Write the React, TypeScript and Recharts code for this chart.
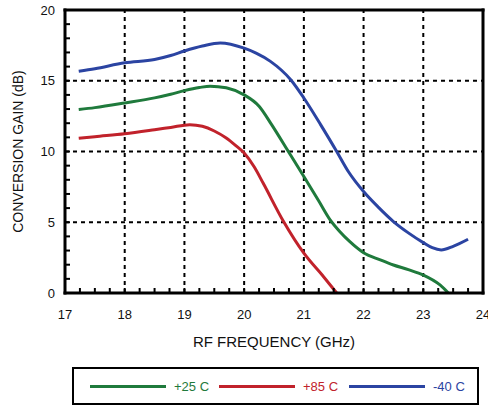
import { LineChart, Line, XAxis, YAxis, ReferenceLine } from 'recharts'

// RF frequency (GHz) / conversion gain (dB)
const FREQ_25 = [17.23, 17.5, 18, 18.5, 18.77, 19, 19.25, 19.43, 19.7, 20, 20.25, 20.46, 20.74, 21, 21.25, 21.44, 21.6, 21.77, 22, 22.28, 22.5, 22.75, 23, 23.28, 23.42]
const GAIN_25 = [12.96, 13.1, 13.43, 13.79, 14.05, 14.3, 14.52, 14.62, 14.5, 14.0, 13.2, 11.9, 10.0, 8.23, 6.5, 5.17, 4.35, 3.63, 2.85, 2.34, 1.98, 1.65, 1.27, 0.57, 0]

const FREQ_85 = [17.23, 17.5, 18, 18.5, 18.77, 19.09, 19.3, 19.5, 19.7, 19.85, 20, 20.17, 20.32, 20.66, 21, 21.33, 21.55]
const GAIN_85 = [10.93, 11.05, 11.26, 11.54, 11.7, 11.89, 11.78, 11.45, 10.95, 10.45, 9.89, 8.9, 7.75, 5.05, 2.81, 1.15, 0]

const FREQ_40 = [17.23, 17.5, 18, 18.5, 18.77, 19, 19.3, 19.6, 20, 20.2, 20.44, 20.78, 21, 21.28, 21.55, 21.75, 22, 22.25, 22.5, 22.75, 23, 23.15, 23.3, 23.5, 23.75]
const GAIN_40 = [15.67, 15.85, 16.27, 16.5, 16.78, 17.1, 17.45, 17.67, 17.3, 16.95, 16.37, 15.07, 13.78, 11.9, 10.0, 8.55, 7.17, 6.05, 5.05, 4.25, 3.56, 3.2, 3.04, 3.3, 3.8]

const X_MINOR = [
  17, 17.25, 17.5, 17.75, 18, 18.25, 18.5, 18.75, 19, 19.25, 19.5, 19.75, 20, 20.25, 20.5, 20.75,
  21, 21.25, 21.5, 21.75, 22, 22.25, 22.5, 22.75, 23, 23.25, 23.5, 23.75, 24,
]
const Y_MINOR = [0, 1, 2, 3, 4, 5, 6, 7, 8, 9, 10, 11, 12, 13, 14, 15, 16, 17, 18, 19, 20]
const X_GRID = [18, 19, 20, 21, 22, 23]
const Y_GRID = [5, 10, 15]
const X_EDGE = [17, 24]
const Y_EDGE = [0, 20]

const SERIES = [
  { name: '+25 C', color: '#1f7a3c', freq: FREQ_25, gain: GAIN_25 },
  { name: '+85 C', color: '#c1222b', freq: FREQ_85, gain: GAIN_85 },
  { name: '-40 C', color: '#2b44a2', freq: FREQ_40, gain: GAIN_40 },
]

// legend: left edge of each sample line
const LEGEND_X = [16, 145, 275]

const FONT = '"Liberation Sans", Arial, Helvetica, sans-serif'
const TICK_LEN = 5

// inward minor tick marks, labels only on the majors
const BottomTick = ({ x, y, payload }: any) => {
  const v = payload.value
  return (
    <g>
      <line x1={x} y1={y} x2={x} y2={y - TICK_LEN} stroke="#000" strokeWidth={2} />
      {Number.isInteger(v) && (
        <text x={x} y={y + 26} textAnchor="middle" fontSize={13} fill="#111" fontFamily={FONT}>
          {v}
        </text>
      )}
    </g>
  )
}

const TopTick = ({ x, y }: any) => (
  <line x1={x} y1={y} x2={x} y2={y + TICK_LEN} stroke="#000" strokeWidth={2} />
)

const LeftTick = ({ x, y, payload }: any) => {
  const v = payload.value
  return (
    <g>
      <line x1={x} y1={y} x2={x + TICK_LEN} y2={y} stroke="#000" strokeWidth={2} />
      {v % 5 === 0 && (
        <text x={x - 10} y={y + 4.5} textAnchor="end" fontSize={13} fill="#111" fontFamily={FONT}>
          {v}
        </text>
      )}
    </g>
  )
}

const RightTick = ({ x, y }: any) => (
  <line x1={x} y1={y} x2={x - TICK_LEN} y2={y} stroke="#000" strokeWidth={2} />
)

export default function App() {
  return (
    <div style={{ position: 'absolute', left: 0, top: 0, width: 488, height: 406, background: '#fff', fontFamily: FONT }}>
      <LineChart width={488} height={406} margin={{ top: 10, right: 5, left: 0, bottom: 53 }}>
        <XAxis
          xAxisId="main"
          type="number"
          dataKey="f"
          domain={[17, 24]}
          ticks={X_MINOR}
          interval={0}
          height={60}
          tickSize={0}
          tickMargin={0}
          tickLine={false}
          axisLine={false}
          tick={<BottomTick />}
          label={{ value: 'RF FREQUENCY (GHz)', position: 'insideBottom', offset: 6, style: { fontSize: 15, fill: '#111', fontFamily: FONT } }}
        />
        <XAxis
          xAxisId="top"
          orientation="top"
          type="number"
          domain={[17, 24]}
          ticks={X_MINOR}
          interval={0}
          height={0}
          tickSize={0}
          tickMargin={0}
          tickLine={false}
          axisLine={false}
          tick={<TopTick />}
        />
        <YAxis
          yAxisId="main"
          type="number"
          domain={[0, 20]}
          allowDataOverflow
          ticks={Y_MINOR}
          interval={0}
          width={65}
          tickSize={0}
          tickMargin={0}
          tickLine={false}
          axisLine={false}
          tick={<LeftTick />}
          label={{ value: 'CONVERSION GAIN (dB)', angle: -90, position: 'insideLeft', offset: 18, style: { textAnchor: 'middle', fontSize: 14, fill: '#111', fontFamily: FONT } }}
        />
        <YAxis
          yAxisId="right"
          orientation="right"
          type="number"
          domain={[0, 20]}
          ticks={Y_MINOR}
          interval={0}
          width={0}
          tickSize={0}
          tickMargin={0}
          tickLine={false}
          axisLine={false}
          tick={<RightTick />}
        />

        {X_GRID.map((x) => (
          <ReferenceLine key={`gx${x}`} xAxisId="main" yAxisId="main" x={x} stroke="#000" strokeWidth={2} strokeDasharray="4 4" />
        ))}
        {Y_GRID.map((y) => (
          <ReferenceLine key={`gy${y}`} xAxisId="main" yAxisId="main" y={y} stroke="#000" strokeWidth={2} strokeDasharray="4 4" />
        ))}

        {SERIES.map((s) => (
          <Line
            key={s.name}
            xAxisId="main"
            yAxisId="main"
            data={s.freq.map((f, i) => ({ f, g: s.gain[i] }))}
            dataKey="g"
            name={s.name}
            type="monotone"
            stroke={s.color}
            strokeWidth={3}
            dot={false}
            activeDot={false}
            isAnimationActive={false}
          />
        ))}

        {/* plot frame */}
        {X_EDGE.map((x) => (
          <ReferenceLine key={`fx${x}`} xAxisId="main" yAxisId="main" x={x} stroke="#000" strokeWidth={3} strokeLinecap="square" ifOverflow="visible" />
        ))}
        {Y_EDGE.map((y) => (
          <ReferenceLine key={`fy${y}`} xAxisId="main" yAxisId="main" y={y} stroke="#000" strokeWidth={3} strokeLinecap="square" ifOverflow="visible" />
        ))}
      </LineChart>

      <div
        style={{
          position: 'absolute',
          left: 72,
          top: 367,
          width: 407,
          height: 38,
          border: '2px solid #000',
          boxSizing: 'border-box',
        }}
      >
        {SERIES.map((s, i) => (
          <div
            key={s.name}
            style={{ position: 'absolute', left: LEGEND_X[i], top: 0, height: 34, display: 'flex', alignItems: 'center', whiteSpace: 'nowrap' }}
          >
            <div style={{ width: 76, height: 3, background: s.color, marginRight: 8 }} />
            <span style={{ color: s.color, fontSize: 13 }}>{s.name}</span>
          </div>
        ))}
      </div>
    </div>
  )
}
